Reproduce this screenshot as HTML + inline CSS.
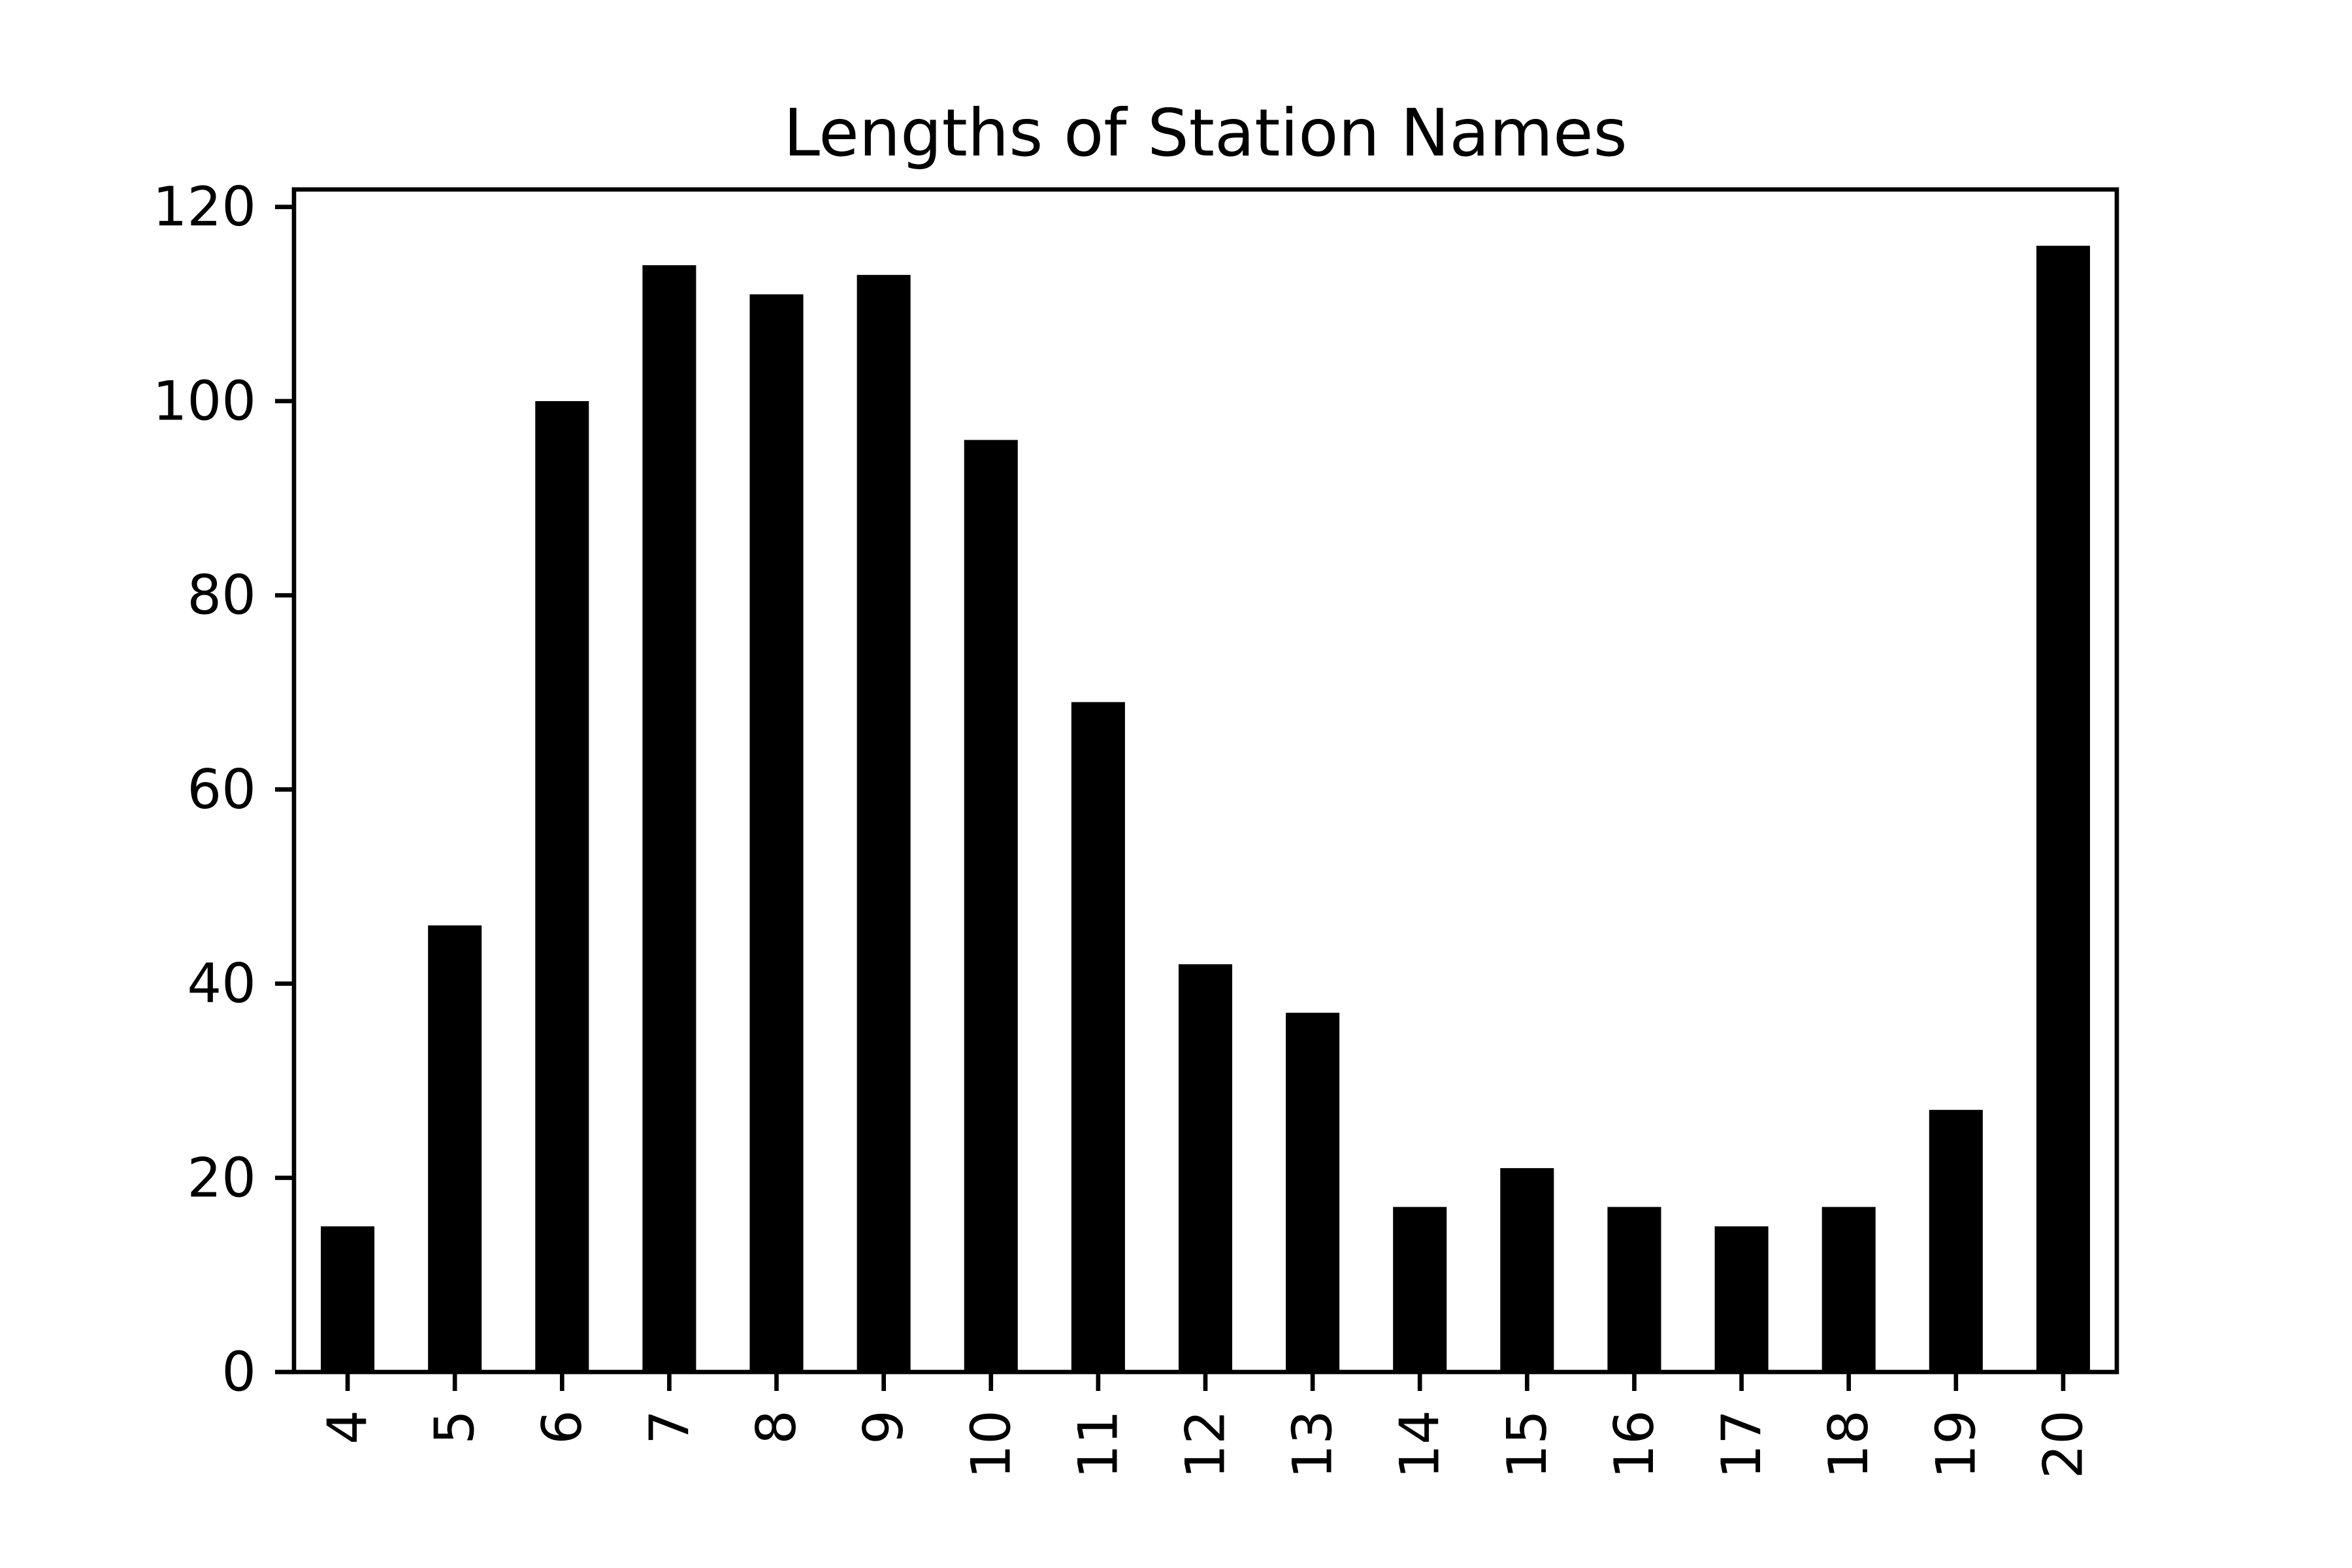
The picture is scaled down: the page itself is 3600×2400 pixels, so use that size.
<!DOCTYPE html>
<html><head><meta charset="utf-8"><style>
html,body{margin:0;padding:0;background:#fff;}
svg{display:block;}
text{font-family:"DejaVu Sans","Liberation Sans",sans-serif;fill:#000;}
</style></head><body>
<svg id="chart" width="3600" height="2400" viewBox="0 0 3600 2400" xmlns="http://www.w3.org/2000/svg">
<rect x="0" y="0" width="3600" height="2400" fill="#fff"/>
<text x="1845" y="238" font-size="100" text-anchor="middle">Lengths of Station Names</text>
<g id="bars"></g>
<g id="axes"></g>
</svg>
<script>
const categories = ["4","5","6","7","8","9","10","11","12","13","14","15","16","17","18","19","20"];
const counts = [15,46,100,114,111,113,96,69,42,37,17,21,17,15,17,27,116];
const yTicks = [0,20,40,60,80,100,120];

const L=450,R=3240,T=290,B=2100;
const yMax = Math.max(...counts)*1.05;
const n = categories.length;
function xScale(i){return L+(i+0.5)/n*(R-L);}
function yScale(v){return B-v/yMax*(B-T);}
const bw = 0.5/n*(R-L);
const NS="http://www.w3.org/2000/svg";
const bars=document.getElementById('bars');
const axes=document.getElementById('axes');
function mk(tag,attrs,parent){const e=document.createElementNS(NS,tag);for(const k in attrs)e.setAttribute(k,attrs[k]);parent.appendChild(e);return e;}

counts.forEach((v,i)=>{
  const r=mk('rect',{x:xScale(i)-bw/2,y:yScale(v),width:bw,height:B-yScale(v),fill:'#000'},bars);
  
  
});

const frame=mk('rect',{x:L,y:T,width:R-L,height:B-T,fill:'none',stroke:'#000','stroke-width':6.67},axes);



yTicks.forEach(t=>{
  const y=yScale(t);
  const tk=mk('line',{x1:L-29,x2:L,y1:y,y2:y,stroke:'#000','stroke-width':6.67},axes);
  
  
  const tx=mk('text',{x:L-58,y:y,'font-size':83,'text-anchor':'end','dominant-baseline':'central'},axes);
  tx.textContent=t;
  
  
});

categories.forEach((c,i)=>{
  const x=xScale(i);
  const tk=mk('line',{x1:x,x2:x,y1:B,y2:B+29,stroke:'#000','stroke-width':6.67},axes);
  
  
  const ty=B+58;
  const tx=mk('text',{x:x,y:ty,'font-size':83,'text-anchor':'end','dominant-baseline':'central',transform:`rotate(-90 ${x} ${ty})`},axes);
  tx.textContent=c;
  
  
});
</script>
</body></html>
